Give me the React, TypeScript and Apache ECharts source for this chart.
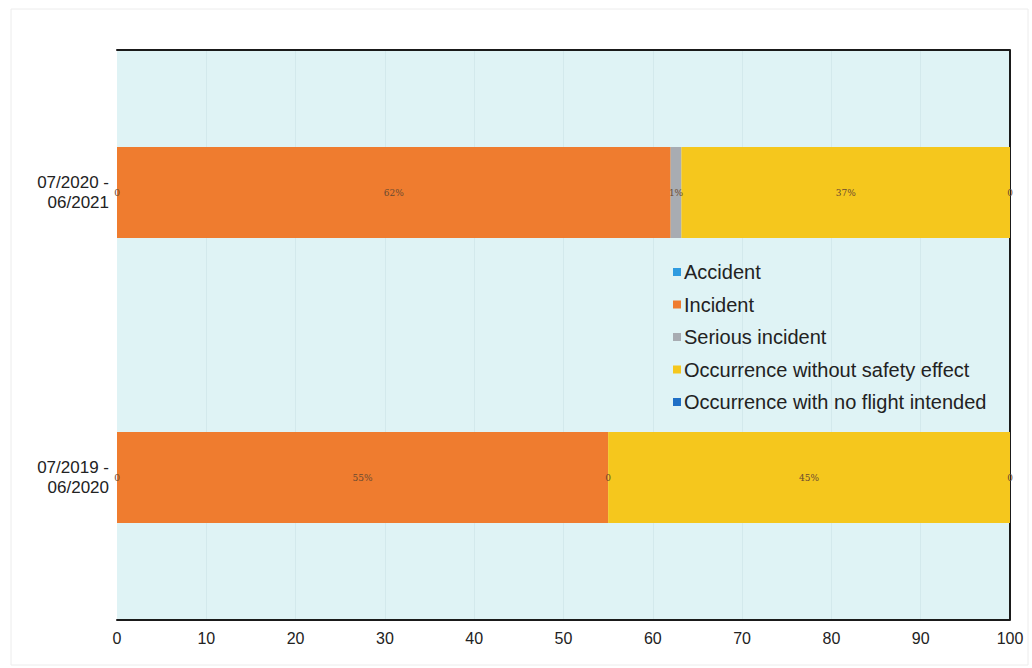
import React, { useEffect, useRef } from "react";
import * as echarts from "echarts";

const categories = ["07/2020 -\n06/2021", "07/2019 -\n06/2020"];
const seriesNames = [
  "Accident",
  "Incident",
  "Serious incident",
  "Occurrence without safety effect",
  "Occurrence with no flight intended",
];
const accident = [0, 0];
const incident = [62, 55];
const seriousIncident = [1.2, 0];
const withoutSafetyEffect = [36.8, 45];
const noFlightIntended = [0, 0];
const xTicks = [0, 10, 20, 30, 40, 50, 60, 70, 80, 90, 100];
const colors = ["#2f9be0", "#ef7c2f", "#a8acb2", "#f5c71d", "#1f6fc6"];

export default function App() {
  const ref = useRef<HTMLDivElement>(null);
  useEffect(() => {
    if (!ref.current) return;
    const chart = echarts.init(ref.current, undefined, { renderer: "svg" });
    const values = [accident, incident, seriousIncident, withoutSafetyEffect, noFlightIntended];
    const labelFmt = (p: any) => {
      const v = p.value as number;
      return v === 0 ? "0" : `${Math.round(v)}%`;
    };
    chart.setOption({
      animation: false,
      backgroundColor: "#ffffff",
      color: colors,
      grid: {
        left: 117,
        right: 22,
        top: 50,
        bottom: 48,
        show: true,
        backgroundColor: "#dff3f5",
        borderWidth: 0,
        borderColor: "transparent",
      },
      graphic: [
        {
          type: "rect",
          shape: { x: 11, y: 9, width: 1017, height: 656 },
          style: { fill: "none", stroke: "#ececec", lineWidth: 1 },
          silent: true,
        },
        {
          type: "line",
          shape: { x1: 1010, y1: 50, x2: 1010, y2: 620 },
          style: { stroke: "#1a1a1a", lineWidth: 2 },
          silent: true,
        },
      ],
      legend: {
        orient: "vertical",
        left: 668,
        top: 257,
        itemWidth: 8,
        itemHeight: 8,
        itemGap: 12.5,
        icon: "rect",
        data: seriesNames,
        textStyle: {
          fontFamily: "Liberation Sans, Arial, sans-serif",
          fontSize: 20,
          color: "#222",
          padding: [0, 0, 0, -2],
        },
      },
      xAxis: [
        {
          type: "value",
          min: 0,
          max: 100,
          interval: 10,
          position: "bottom",
          axisLine: { show: true, lineStyle: { color: "#1a1a1a", width: 2 } },
          axisTick: { show: false },
          splitLine: {
            show: true,
            showMinLine: false,
            showMaxLine: false,
            lineStyle: { color: "#d3e9ec", width: 1 },
          },
          axisLabel: {
            margin: 10,
            fontFamily: "Liberation Sans, Arial, sans-serif",
            fontSize: 16,
            color: "#222",
            formatter: (v: number) => (xTicks.includes(v) ? String(v) : ""),
          },
        },
        {
          type: "value",
          min: 0,
          max: 100,
          position: "top",
          axisLine: { show: true, onZero: false, lineStyle: { color: "#1a1a1a", width: 2 } },
          axisTick: { show: false },
          axisLabel: { show: false },
          splitLine: { show: false },
        },
      ],
      yAxis: {
        type: "category",
        data: categories,
        inverse: true,
        axisLine: { show: false, onZero: false },
        axisTick: { show: false },
        splitLine: { show: false },
        axisLabel: {
          margin: 8,
          fontFamily: "Liberation Sans, Arial, sans-serif",
          fontSize: 17,
          lineHeight: 20,
          color: "#222",
          align: "right",
        },
      },
      series: seriesNames.map((name, i) => ({
        name,
        type: "bar",
        stack: "total",
        xAxisIndex: 0,
        barWidth: 91,
        data: values[i],
        itemStyle: { color: colors[i] },
        label: {
          show: true,
          position: "inside",
          formatter: labelFmt,
          fontFamily: "DejaVu Serif, serif",
          fontSize: 9,
          color: "#6a4a30",
        },
      })),
    });
    return () => chart.dispose();
  }, []);
  return (
    <div
      ref={ref}
      style={{ position: "absolute", left: 0, top: 0, width: 1032, height: 668 }}
    />
  );
}
